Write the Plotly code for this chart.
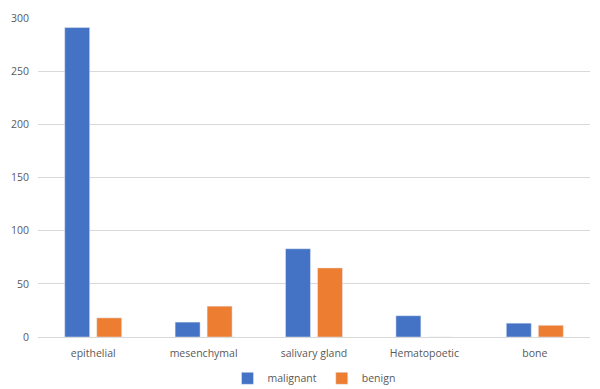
import plotly.graph_objects as go

categories = ["epithelial", "mesenchymal", "salivary gland", "Hematopoetic", "bone"]
malignant = [291, 14, 83, 20, 13]
benign = [18, 29, 65, 0, 11]
y_ticks = [0, 50, 100, 150, 200, 250, 300]

fig = go.Figure()
fig.add_trace(go.Bar(name="malignant", x=categories, y=malignant, marker_color="#4472C4"))
fig.add_trace(go.Bar(name="benign", x=categories, y=benign, marker_color="#ED7D31"))

font = dict(family="Open Sans, Liberation Sans, sans-serif", size=10.5, color="#595959")
fig.update_layout(
    width=600, height=389,
    margin=dict(l=38, r=10, t=18, b=52, autoexpand=False),
    paper_bgcolor="white", plot_bgcolor="white",
    barmode="group", bargap=0.42, bargroupgap=0.22,
    font=font,
    showlegend=True,
    legend=dict(orientation="h", x=0.5, xanchor="center", y=-0.175, yanchor="bottom",
                font=font, itemwidth=30, traceorder="normal"),
    xaxis=dict(showline=True, linecolor="#d9d9d9", ticks="", tickfont=font,
               ticklabelstandoff=6),
    yaxis=dict(range=[0, 300], tickvals=y_ticks, showgrid=True, gridcolor="#d9d9d9",
               zeroline=False, ticks="", tickfont=font, ticklabelstandoff=8),
)
fig.write_html("out.html")
